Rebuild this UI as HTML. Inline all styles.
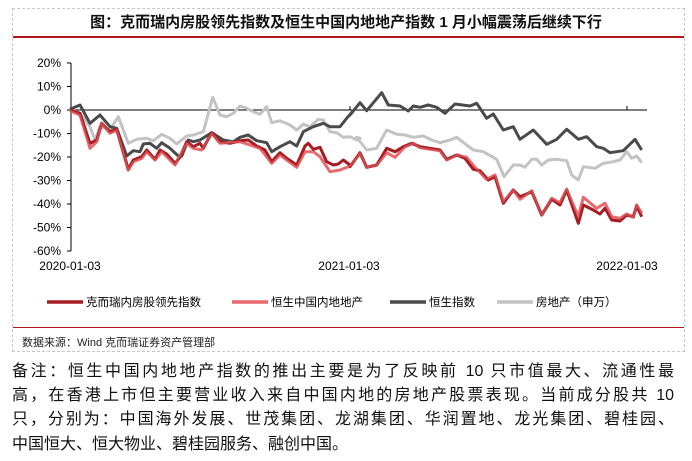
<!DOCTYPE html>
<html><head><meta charset="utf-8"><style>
body{margin:0;width:692px;height:461px;background:#fff;font-family:"Liberation Sans","Noto Sans CJK SC",sans-serif;overflow:hidden;position:relative}
.box{position:absolute;left:12px;top:8px;width:673px;height:344px;border:1px dashed #c8c8c8;box-sizing:border-box}
.t{position:absolute;white-space:nowrap}
.n{position:absolute;left:12px;width:662px;font-size:16px;color:#111;white-space:nowrap;text-align:justify;text-align-last:justify}
</style></head><body>
<div class="box"></div>
<div class="t" style="left:0;width:692px;top:11px;text-align:center;font-size:15px;font-weight:bold;color:#111">图：克而瑞内房股领先指数及恒生中国内地地产指数 1 月小幅震荡后继续下行</div>
<div style="position:absolute;left:13px;top:36px;width:671px;height:2px;background:#b0161c"></div>
<svg id="s" width="692" height="461" style="position:absolute;left:0;top:0" font-family="Liberation Sans" font-size="12"></svg>
<div style="position:absolute;left:13px;top:327px;width:671px;height:1px;background:#b0161c"></div>
<div class="t" style="left:22px;top:334px;font-size:11px;color:#222">数据来源：Wind 克而瑞证券资产管理部</div>
<div class="n" style="top:357px">备注：恒生中国内地地产指数的推出主要是为了反映前 10 只市值最大、流通性最</div>
<div class="n" style="top:381px">高，在香港上市但主要营业收入来自中国内地的房地产股票表现。当前成分股共 10</div>
<div class="n" style="top:405px">只，分别为：中国海外发展、世茂集团、龙湖集团、华润置地、龙光集团、碧桂园、</div>
<div class="n" style="top:430px;text-align-last:left">中国恒大、恒大物业、碧桂园服务、融创中国。</div>
<script>
var s=document.getElementById('s'),h='';
var y0=110,st=23.5;
for(var i=2;i>=-6;i--){var y=y0-i*st;h+='<line x1="67" x2="71" y1="'+y+'" y2="'+y+'" stroke="#000"/><text x="61" y="'+(y+4)+'" text-anchor="end">'+(i*10)+'%</text>';}
h+='<line x1="71" x2="71" y1="63" y2="251" stroke="#000"/>';
h+='<line x1="71" x2="647" y1="110" y2="110" stroke="#000"/>';
h+='<line x1="350" x2="350" y1="106" y2="110" stroke="#000"/><line x1="627" x2="627" y1="106" y2="110" stroke="#000"/>';
[[70,'2020-01-03'],[349,'2021-01-03'],[627,'2022-01-03']].forEach(function(a){h+='<text x="'+a[0]+'" y="270" text-anchor="middle">'+a[1]+'</text>';});
function P(a,b){var r=[];a.forEach(function(p){r.push((60+p[0]/3).toFixed(1)+','+(80+p[1]/3).toFixed(1));});b.forEach(function(p){r.push((350+p[0]/3).toFixed(1)+','+(80+p[1]/3).toFixed(1));});return r.join(' ');}
var LG=P([[30,88],[60,100],[90,140],[105,180],[120,140],[150,150],[175,110],[205,190],[230,178],[260,175],[280,182],[305,163],[330,175],[350,192],[380,168],[400,165],[430,155],[458,52],[480,105],[500,110],[520,100],[540,78],[560,85],[580,95],[600,103],[620,80],[635,128],[660,122],[690,135],[710,150],[730,133],[750,140],[775,118],[790,120],[810,155],[830,158],[850,172],[870,170],[890,180],[900,175]],[[20,172],[50,210],[80,205],[110,150],[140,163],[165,165],[190,172],[220,168],[245,180],[270,188],[300,180],[320,172],[350,195],[370,210],[400,215],[440,238],[462,290],[490,255],[510,255],[525,262],[545,238],[560,238],[575,255],[595,240],[620,238],[650,242],[665,285],[685,300],[700,260],[715,262],[735,265],[760,250],[790,245],[810,240],[830,215],[845,235],[860,228],[875,248]]);
var DG=P([[30,88],[60,75],[90,130],[120,105],[150,140],[170,145],[200,228],[220,212],[240,215],[250,192],[270,190],[290,205],[305,188],[330,205],[355,228],[365,228],[385,180],[400,185],[420,180],[455,158],[490,180],[520,185],[540,172],[565,165],[590,182],[620,188],[635,215],[660,200],[690,185],[710,198],[730,155],[760,140],[790,130],[810,140],[840,140],[860,115],[880,92]],[[0,105],[30,68],[50,92],[95,38],[115,75],[150,78],[175,93],[190,78],[210,82],[235,75],[260,82],[285,100],[315,72],[360,78],[380,70],[410,115],[430,102],[460,150],[490,140],[510,178],[550,150],[590,193],[620,178],[650,148],[685,178],[710,170],[740,200],[760,205],[780,218],[820,212],[855,178],[875,210]]);
var PK=P([[30,92],[60,105],[90,205],[110,185],[125,130],[150,160],[170,150],[205,270],[220,245],[245,235],[260,215],[285,240],[305,215],[345,255],[380,190],[400,205],[425,210],[455,160],[480,190],[540,185],[600,205],[635,250],[660,225],[710,262],[735,215],[760,215],[780,230],[810,275],[840,270],[870,258]],[[0,258],[30,220],[50,262],[80,255],[110,218],[135,232],[165,200],[190,190],[210,203],[240,208],[270,212],[290,240],[320,225],[350,232],[375,262],[410,298],[435,285],[460,365],[490,330],[510,358],[545,332],[575,405],[605,355],[630,368],[650,328],[685,410],[700,352],[740,385],[765,370],[785,410],[810,415],[830,402],[850,412],[860,375],[875,400]]);
var DR=P([[30,90],[60,100],[90,190],[110,180],[125,130],[150,155],[170,148],[205,268],[220,240],[245,230],[260,210],[285,238],[300,210],[320,222],[345,250],[360,232],[380,185],[400,200],[420,190],[430,205],[455,158],[480,185],[510,190],[540,182],[565,180],[590,198],[615,210],[635,245],[660,218],[680,235],[710,255],[735,198],[745,190],[760,208],[780,202],[800,245],[820,255],[835,252],[850,240],[870,255]],[[0,260],[30,218],[50,262],[80,255],[110,205],[135,215],[160,200],[185,190],[210,200],[240,205],[270,210],[290,238],[320,225],[345,235],[370,268],[390,272],[415,300],[435,290],[460,370],[490,330],[510,350],[545,335],[575,405],[605,358],[630,375],[650,330],[685,430],[700,375],[730,390],[750,402],[765,385],[785,420],[810,423],[830,405],[850,410],[860,378],[875,410]]);
[[LG,'#c3c3c3'],[DG,'#4a4a4a'],[PK,'#e8696e'],[DR,'#a51c22']].forEach(function(a){h+='<polyline points="'+a[0]+'" fill="none" stroke="'+a[1]+'" stroke-width="3" stroke-linejoin="round"/>';});
h+='<polyline points="'+PK+'" fill="none" stroke="#e8696e" stroke-width="2" stroke-opacity="0.6"/>';
[[47,'#a51c22','克而瑞内房股领先指数'],[232,'#e8696e','恒生中国内地地产'],[390,'#4a4a4a','恒生指数'],[497,'#c3c3c3','房地产（申万）']].forEach(function(a){h+='<line x1="'+a[0]+'" x2="'+(a[0]+36)+'" y1="302" y2="302" stroke="'+a[1]+'" stroke-width="3.5"/><text x="'+(a[0]+39)+'" y="306" font-family="Liberation Sans,Noto Sans CJK SC,sans-serif" font-size="11.5">'+a[2]+'</text>';});
s.innerHTML=h;
</script>
</body></html>
